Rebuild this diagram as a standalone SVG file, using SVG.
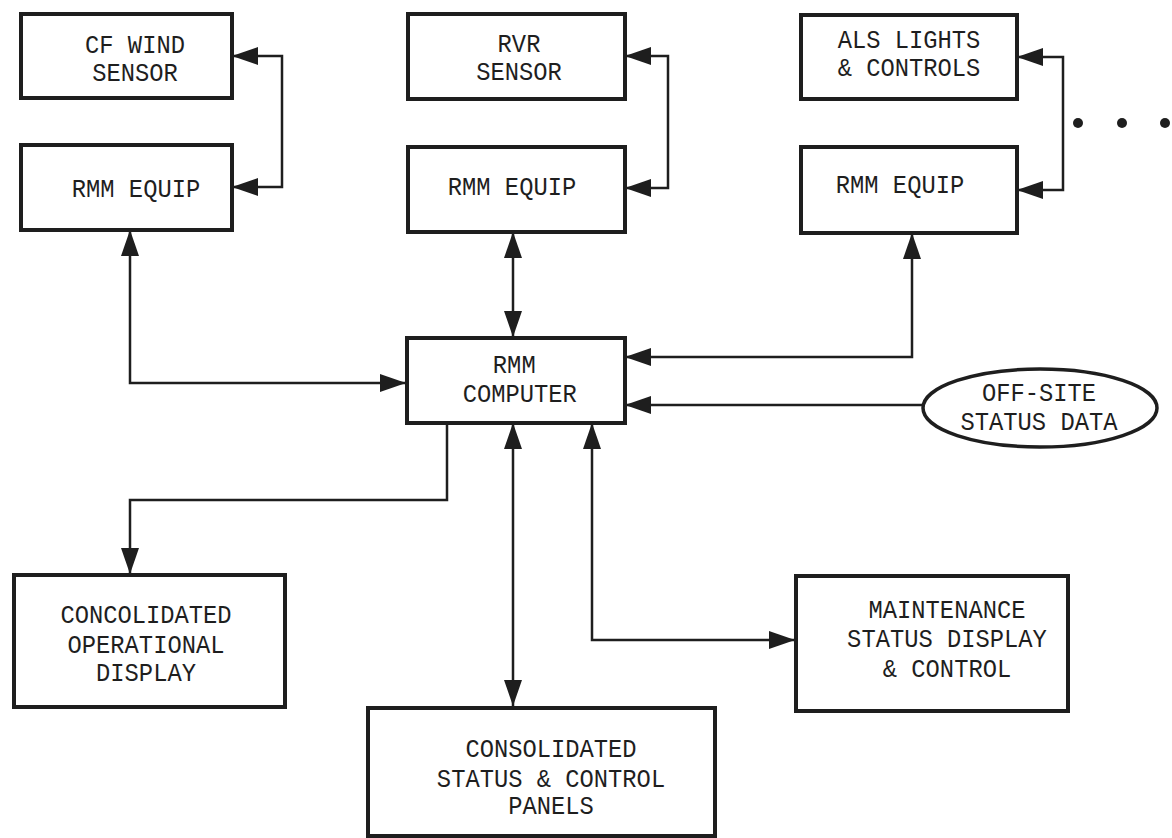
<svg xmlns="http://www.w3.org/2000/svg" width="1172" height="838" viewBox="0 0 1172 838">
<style>
.box{fill:#fff;stroke:#1e1e1e;stroke-width:4}
.ln{fill:none;stroke:#1e1e1e;stroke-width:2.5}
.t{font-family:"Liberation Mono","DejaVu Sans Mono",monospace;font-size:26px;fill:#1e1e1e;text-anchor:middle}
</style>
<defs>
<marker id="ah" markerUnits="userSpaceOnUse" markerWidth="26" markerHeight="18" refX="26" refY="9" orient="auto-start-reverse" viewBox="0 0 26 18">
<path d="M0,0 L26,9 L0,18 z" fill="#1e1e1e"/>
</marker>
</defs>
<rect width="1172" height="838" fill="#fff"/>
<g id="connectors">
<path class="ln" d="M232,56 H282 V187 H232" marker-start="url(#ah)" marker-end="url(#ah)"/>
<path class="ln" d="M625,56 H668 V188 H625" marker-start="url(#ah)" marker-end="url(#ah)"/>
<path class="ln" d="M1017,57 H1063 V190 H1017" marker-start="url(#ah)" marker-end="url(#ah)"/>
<path class="ln" d="M130,230 V383 H406" marker-start="url(#ah)" marker-end="url(#ah)"/>
<path class="ln" d="M513,232 V337" marker-start="url(#ah)" marker-end="url(#ah)"/>
<path class="ln" d="M912,233 V357 H625" marker-start="url(#ah)" marker-end="url(#ah)"/>
<path class="ln" d="M922,405 H625" marker-end="url(#ah)"/>
<path class="ln" d="M447,423 V500 H130 V574" marker-end="url(#ah)"/>
<path class="ln" d="M513,423 V706" marker-start="url(#ah)" marker-end="url(#ah)"/>
<path class="ln" d="M592,423 V640 H795" marker-start="url(#ah)" marker-end="url(#ah)"/>
</g>
<g id="cf-wind-sensor">
<rect class="box" x="21" y="14" width="211" height="84"/>
<text class="t" transform="translate(135,0) scale(0.915,1)"><tspan x="0" y="53">CF WIND</tspan><tspan x="0" y="81">SENSOR</tspan></text>
</g>
<g id="rmm-equip-1">
<rect class="box" x="21" y="145" width="211" height="85"/>
<text class="t" transform="translate(136,0) scale(0.915,1)"><tspan x="0" y="197">RMM EQUIP</tspan></text>
</g>
<g id="rvr-sensor">
<rect class="box" x="408" y="14" width="217" height="85"/>
<text class="t" transform="translate(519,0) scale(0.915,1)"><tspan x="0" y="52">RVR</tspan><tspan x="0" y="80">SENSOR</tspan></text>
</g>
<g id="rmm-equip-2">
<rect class="box" x="408" y="147" width="217" height="85"/>
<text class="t" transform="translate(512,0) scale(0.915,1)"><tspan x="0" y="195">RMM EQUIP</tspan></text>
</g>
<g id="als-lights">
<rect class="box" x="801" y="15" width="216" height="84"/>
<text class="t" transform="translate(909,0) scale(0.915,1)"><tspan x="0" y="48">ALS LIGHTS</tspan><tspan x="0" y="76">&amp; CONTROLS</tspan></text>
</g>
<g id="rmm-equip-3">
<rect class="box" x="801" y="147" width="216" height="86"/>
<text class="t" transform="translate(900,0) scale(0.915,1)"><tspan x="0" y="193">RMM EQUIP</tspan></text>
</g>
<g id="more-dots" fill="#1e1e1e">
<circle cx="1078" cy="123" r="5"/>
<circle cx="1122" cy="123" r="5"/>
<circle cx="1165" cy="123" r="5"/>
</g>
<g id="rmm-computer">
<rect class="box" x="407" y="338" width="218" height="85"/>
<text class="t" transform="translate(517,0) scale(0.915,1)"><tspan x="-3" y="373">RMM</tspan><tspan x="3" y="402">COMPUTER</tspan></text>
</g>
<g id="off-site-status-data">
<ellipse cx="1040" cy="408" rx="117" ry="39" fill="#fff" stroke="#1e1e1e" stroke-width="3.5"/>
<text class="t" transform="translate(1039,0) scale(0.915,1)"><tspan x="0" y="401">OFF-SITE</tspan><tspan x="0" y="430">STATUS DATA</tspan></text>
</g>
<g id="concolidated-operational-display">
<rect class="box" x="14" y="575" width="271" height="132"/>
<text class="t" transform="translate(146,0) scale(0.915,1)"><tspan x="0" y="623">CONCOLIDATED</tspan><tspan x="0" y="653">OPERATIONAL</tspan><tspan x="0" y="681">DISPLAY</tspan></text>
</g>
<g id="consolidated-status-control-panels">
<rect class="box" x="368" y="708" width="347" height="128"/>
<text class="t" transform="translate(551,0) scale(0.915,1)"><tspan x="0" y="757">CONSOLIDATED</tspan><tspan x="0" y="787">STATUS &amp; CONTROL</tspan><tspan x="0" y="814">PANELS</tspan></text>
</g>
<g id="maintenance-status-display-control">
<rect class="box" x="796" y="576" width="272" height="135"/>
<text class="t" transform="translate(947,0) scale(0.915,1)"><tspan x="0" y="618">MAINTENANCE</tspan><tspan x="0" y="647">STATUS DISPLAY</tspan><tspan x="0" y="677">&amp; CONTROL</tspan></text>
</g>
</svg>
